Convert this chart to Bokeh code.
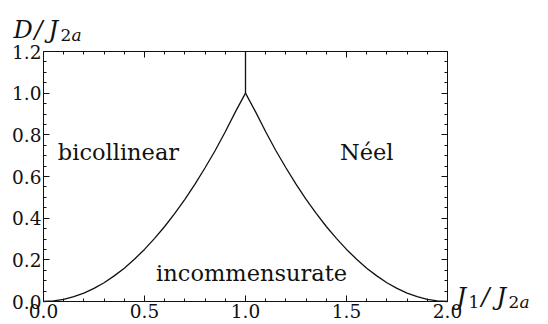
from bokeh.plotting import figure
from bokeh.models import Range1d, LinearAxis, FixedTicker, ColumnDataSource
from bokeh.core.properties import value
from bokeh.embed import file_html
from bokeh.resources import INLINE

# ---- data ----
left_x = [0.0, 0.05, 0.1, 0.15, 0.2, 0.25, 0.3, 0.35, 0.4, 0.45, 0.5,
          0.55, 0.6, 0.65, 0.7, 0.75, 0.8, 0.85, 0.9, 0.95, 1.0]
left_y = [0.0, 0.003, 0.01, 0.023, 0.04, 0.063, 0.09, 0.123, 0.16, 0.203, 0.25,
          0.303, 0.36, 0.423, 0.49, 0.563, 0.642, 0.725, 0.815, 0.91, 1.0]
right_x = [1.0, 1.05, 1.1, 1.15, 1.2, 1.25, 1.3, 1.35, 1.4, 1.45, 1.5,
           1.55, 1.6, 1.65, 1.7, 1.75, 1.8, 1.85, 1.9, 1.95, 2.0]
right_y = [1.0, 0.91, 0.815, 0.725, 0.642, 0.563, 0.49, 0.423, 0.36, 0.303, 0.25,
           0.203, 0.16, 0.123, 0.09, 0.063, 0.04, 0.023, 0.01, 0.003, 0.0]
top_x = [1.0, 1.0]
top_y = [1.0, 1.2]

x_ticks = [0.0, 0.5, 1.0, 1.5, 2.0]
x_tick_labels = ["0.0", "0.5", "1.0", "1.5", "2.0"]
x_minor = [0.1, 0.2, 0.3, 0.4, 0.6, 0.7, 0.8, 0.9, 1.1, 1.2, 1.3, 1.4,
           1.6, 1.7, 1.8, 1.9]
y_ticks = [0.0, 0.2, 0.4, 0.6, 0.8, 1.0, 1.2]
y_tick_labels = ["0.0", "0.2", "0.4", "0.6", "0.8", "1.0", "1.2"]
y_minor = [0.05, 0.1, 0.15, 0.25, 0.3, 0.35, 0.45, 0.5, 0.55, 0.65, 0.7, 0.75,
           0.85, 0.9, 0.95, 1.05, 1.1, 1.15]

regions = ["bicollinear", "Néel", "incommensurate"]
region_x = [0.371, 1.6, 1.03]
region_y = [0.72, 0.72, 0.136]

X_MIN, X_MAX = 0.0, 2.0
Y_MIN, Y_MAX = 0.0, 1.2

SERIF = "DejaVu Serif"
INK = "#111111"

# ---- canvas / box geometry (pixels) ----
W, H = 548, 324
BOX_L, BOX_R, BOX_T, BOX_B = 43, 447, 51, 301
KX = (BOX_R - BOX_L) / (X_MAX - X_MIN)
KY = (BOX_B - BOX_T) / (Y_MAX - Y_MIN)


def cx(px):
    return X_MIN + (px - BOX_L) / KX


def cy(py):
    return Y_MIN + (BOX_B - py) / KY


p = figure(width=W, height=H,
           x_range=Range1d(cx(0), cx(W)), y_range=Range1d(cy(H), cy(0)),
           output_backend="svg", toolbar_location=None,
           x_axis_location=None, y_axis_location=None,
           min_border=0, min_border_left=0, min_border_right=0,
           min_border_top=0, min_border_bottom=0, outline_line_color=None)
p.grid.visible = False
p.background_fill_color = "white"
p.border_fill_color = "white"


def make_axis(ticks, minor, loc, bounds, labels=None):
    ax = LinearAxis(ticker=FixedTicker(ticks=ticks, minor_ticks=minor),
                    fixed_location=loc, bounds=bounds)
    ax.axis_line_color = INK
    ax.axis_line_width = 1
    ax.major_tick_line_color = INK
    ax.minor_tick_line_color = INK
    ax.major_tick_in = 6
    ax.major_tick_out = 0
    ax.minor_tick_in = 3
    ax.minor_tick_out = 0
    ax.major_label_text_font = SERIF
    ax.major_label_text_color = INK
    if labels is not None:
        ax.major_label_overrides = dict(zip(ticks, labels))
        ax.major_label_text_font_size = "18.5px"
        ax.major_label_standoff = 2
    else:
        ax.major_label_text_font_size = "0px"
        ax.major_label_text_alpha = 0
        ax.major_label_standoff = 0
    return ax


p.add_layout(make_axis(x_ticks, x_minor, Y_MIN, (X_MIN, X_MAX), x_tick_labels), "below")
p.add_layout(make_axis(x_ticks, x_minor, Y_MAX, (X_MIN, X_MAX)), "above")
p.add_layout(make_axis(y_ticks, y_minor, X_MIN, (Y_MIN, Y_MAX), y_tick_labels), "left")
p.add_layout(make_axis(y_ticks, y_minor, X_MAX, (Y_MIN, Y_MAX)), "right")

for xs, ys in ((left_x, left_y), (right_x, right_y), (top_x, top_y)):
    p.line(xs, ys, line_color=INK, line_width=1.3)

src = ColumnDataSource(dict(x=region_x, y=region_y, t=regions))
p.text(x="x", y="y", text="t", source=src, text_font=value(SERIF),
       text_font_size="22.5px", text_align="center", text_baseline="alphabetic",
       text_color=INK)

# axis titles composed of pieces: (text, canvas x, canvas baseline y, size, style)
parts = [
    ("D", 13, 29.5, "24px", "italic"),
    ("/", 34, 29.5, "24px", "italic"),
    ("J", 48, 29.5, "24px", "italic"),
    ("2", 60, 34, "17px", "normal"),
    ("a", 71, 34, "17px", "italic"),
    ("J", 456, 296.5, "24px", "italic"),
    ("1", 468, 301, "17px", "normal"),
    ("/", 481, 296.5, "24px", "italic"),
    ("J", 496, 296.5, "24px", "italic"),
    ("2", 508, 301, "17px", "normal"),
    ("a", 519, 301, "17px", "italic"),
]
for t, px, py, fs, st in parts:
    p.text(x=[cx(px)], y=[cy(py)], text=[t], text_font=value(SERIF),
           text_font_size=fs, text_font_style=st, text_color=INK,
           text_align="left", text_baseline="alphabetic")

open("out.html", "w").write(file_html(p, INLINE))
